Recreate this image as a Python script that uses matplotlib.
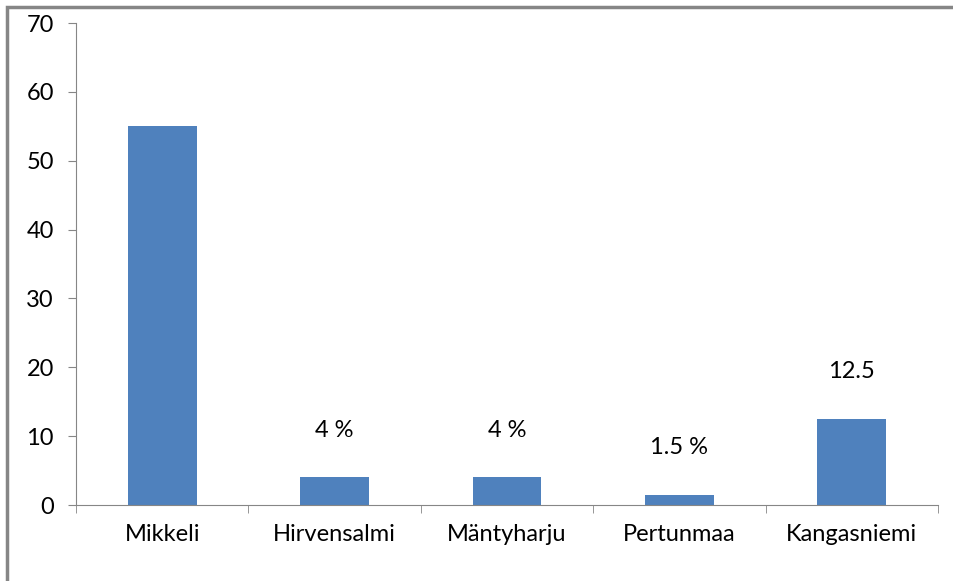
import matplotlib.pyplot as plt
from matplotlib.patches import Rectangle
import numpy as np

# kunnat ja osuudet
kunnat = ["Mikkeli", "Hirvensalmi", "Mäntyharju", "Pertunmaa", "Kangasniemi"]
arvot = [55, 4, 4, 1.5, 12.5]
tekstit = ["", "4 %", "4 %", "1.5 %", "12.5"]

plt.rcParams['font.family'] = ['Lato', 'DejaVu Sans']
harmaa = "#868686"

fig = plt.figure(figsize=(9.54, 5.81), dpi=100)
ax = fig.add_axes([76 / 954, 1 - 505 / 581, (938 - 76) / 954, (505 - 23) / 581])

x = np.arange(len(kunnat))
ax.bar(x, arvot, width=0.4, color="#4F81BD")
for xi, v, t in zip(x, arvot, tekstit):
    if t:
        ax.annotate(t, (xi, v), xytext=(0, 34), textcoords="offset points",
                    ha="center", va="center", fontsize=17)

ax.set_xlim(-0.5, len(kunnat) - 0.5)
ax.set_ylim(0, 70)
ax.set_yticks(range(0, 71, 10))
ax.set_xticks(x)
ax.set_xticklabels(kunnat)
ax.set_xticks(np.arange(-0.5, len(kunnat)), minor=True)

for s in ["top", "right"]:
    ax.spines[s].set_visible(False)
for s in ["left", "bottom"]:
    ax.spines[s].set_color(harmaa)
ax.tick_params(axis="y", length=6, color=harmaa, labelsize=17, pad=10)
ax.tick_params(axis="x", which="major", length=0, labelsize=17, pad=14)
ax.tick_params(axis="x", which="minor", length=6, color=harmaa)

# kehys kaavion ympärillä
fig.patches.append(Rectangle((7 / 954, -0.1), 1.2, 1 - 7 / 581 + 0.1, transform=fig.transFigure,
                             fill=False, edgecolor=harmaa, linewidth=2.5))

plt.savefig("out.png", dpi=100)
